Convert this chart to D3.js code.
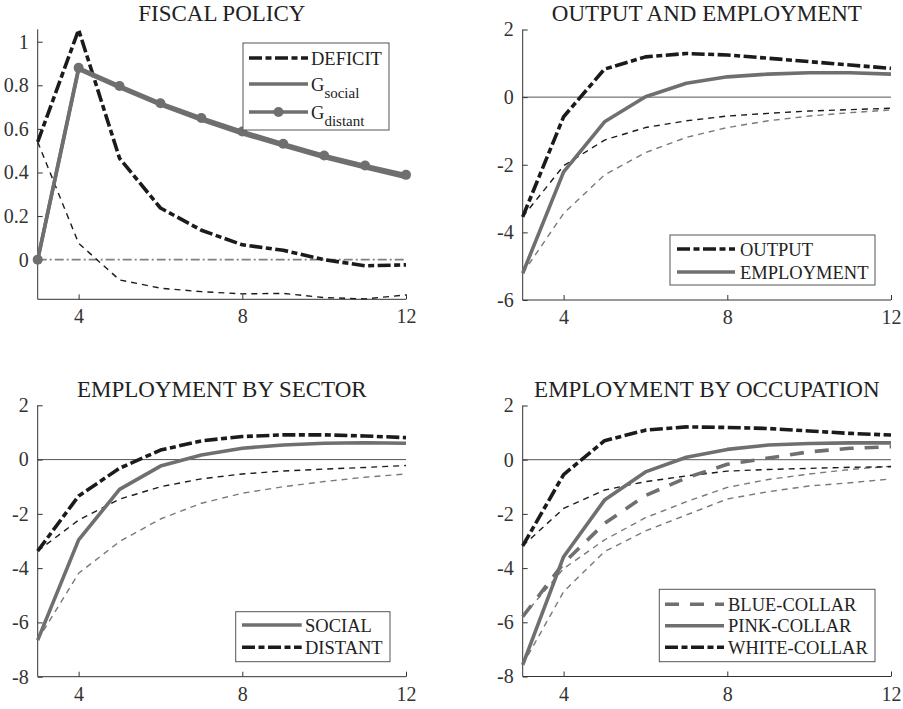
<!DOCTYPE html>
<html><head><meta charset="utf-8">
<script src="https://cdn.jsdelivr.net/npm/d3@7"></script>
<style>
body{margin:0;background:#fff;}
text{font-family:"Liberation Serif","Times New Roman",serif;}
</style></head>
<body><svg id="c" width="903" height="709"></svg>
<script>
// ---------- data ----------
const periods = [3,4,5,6,7,8,9,10,11,12];
const xTicks = [4,8,12];

// Panel 1: fiscal policy
const deficit      = [0.54,1.055,0.465,0.237,0.135,0.068,0.043,0.0,-0.028,-0.024];
const deficitAlt   = [0.54,0.075,-0.093,-0.131,-0.147,-0.157,-0.155,-0.174,-0.180,-0.162];
const gSocial      = [0,0.873,0.789,0.710,0.641,0.578,0.522,0.469,0.422,0.377];
const gDistant     = [0,0.880,0.797,0.718,0.650,0.588,0.532,0.478,0.432,0.389];
const zeroRef      = [0,0,0,0,0,0,0,0,0,0];
const fiscalYTicks = [0,0.2,0.4,0.6,0.8,1];

// Panel 2: output and employment
const output       = [-3.54,-0.58,0.83,1.19,1.29,1.245,1.15,1.05,0.95,0.85];
const outputAlt    = [-3.54,-2.03,-1.27,-0.90,-0.70,-0.56,-0.48,-0.41,-0.37,-0.33];
const employment   = [-5.21,-2.21,-0.73,0.01,0.41,0.60,0.68,0.72,0.72,0.68];
const employmentAlt= [-5.21,-3.44,-2.30,-1.64,-1.19,-0.90,-0.70,-0.56,-0.46,-0.38];
const outYTicks    = [-6,-4,-2,0,2];

// Panel 3: employment by sector
const social       = [-6.65,-2.96,-1.10,-0.24,0.17,0.42,0.54,0.60,0.62,0.60];
const socialAlt    = [-6.65,-4.19,-3.02,-2.19,-1.61,-1.24,-1.00,-0.81,-0.65,-0.53];
const distant      = [-3.37,-1.34,-0.32,0.35,0.69,0.85,0.91,0.91,0.87,0.81];
const distantAlt   = [-3.37,-2.23,-1.46,-1.00,-0.71,-0.53,-0.42,-0.35,-0.29,-0.22];
const empYTicks    = [-8,-6,-4,-2,0,2];

// Panel 4: employment by occupation
const blueCollar   = [-5.79,-3.82,-2.35,-1.32,-0.67,-0.17,0.06,0.29,0.42,0.48];
const blueAlt      = [-5.79,-4.02,-2.96,-2.14,-1.55,-1.02,-0.73,-0.53,-0.36,-0.24];
const pinkCollar   = [-7.57,-3.58,-1.49,-0.45,0.09,0.38,0.54,0.60,0.62,0.62];
const pinkAlt      = [-7.57,-4.87,-3.39,-2.63,-2.04,-1.45,-1.18,-0.97,-0.85,-0.71];
const whiteCollar  = [-3.18,-0.55,0.70,1.09,1.21,1.19,1.15,1.06,0.97,0.91];
const whiteAlt     = [-3.18,-1.80,-1.12,-0.81,-0.60,-0.42,-0.36,-0.32,-0.28,-0.26];

// ---------- styles ----------
const BLACK = "#1b1b1b", GRAY = "#6f6f6f", LGRAY = "#7a7a7a";
const ST = {
  thickDashDot: {stroke:BLACK, w:3.6, dash:"13,3.5,6,3.5"},
  thickGray:    {stroke:GRAY,  w:3.6, dash:null},
  thickGrayDash:{stroke:GRAY,  w:3.6, dash:"14,11"},
  thinBlack:    {stroke:BLACK, w:1.4, dash:"6,5"},
  thinGray:     {stroke:LGRAY, w:1.4, dash:"6,5"},
  zeroDashDot:  {stroke:"#808080", w:1.6, dash:"9,3,2,3"}
};

const svg = d3.select("#c");

function panel(cfg){
  const x = d3.scaleLinear().domain([3,12]).range([cfg.left, cfg.right]);
  const y = d3.scaleLinear().domain(cfg.yDomain).range([cfg.bottom, cfg.top]);
  const g = svg.append("g");

  // title
  g.append("text").attr("x",(cfg.left+cfg.right)/2).attr("y",cfg.titleY)
    .attr("text-anchor","middle").attr("font-size",23).attr("fill","#222").text(cfg.title);

  // zero line
  if(cfg.zeroLine){
    g.append("line").attr("x1",x(3)).attr("x2",x(12)).attr("y1",y(0)).attr("y2",y(0))
      .attr("stroke","#555").attr("stroke-width",1);
  }

  // axes
  const ax = d3.axisBottom(x).tickValues(xTicks).tickSize(-5).tickPadding(10).tickFormat(d3.format("d"));
  const gx = g.append("g").attr("transform",`translate(0,${cfg.bottom})`).call(ax);
  const ay = d3.axisLeft(y).tickValues(cfg.yTicks).tickSize(-5).tickPadding(9).tickFormat(cfg.fmt);
  const gy = g.append("g").attr("transform",`translate(${cfg.left},0)`).call(ay);
  [gx,gy].forEach(a=>{
    a.select(".domain").attr("stroke","#333").attr("stroke-width",1);
    a.selectAll(".tick line").attr("stroke","#333");
    a.selectAll(".tick text").attr("font-size",20).attr("fill","#333")
      .attr("font-family","Liberation Serif, Times New Roman, serif");
  });
  gx.select(".domain").attr("d",`M${cfg.left},0H${cfg.right}`);
  gy.select(".domain").attr("d",`M0,${cfg.bottom}V${cfg.top}`);
  gy.selectAll(".tick text").text(d=>cfg.fmt(d).replace("\u2212","-"));

  // series
  const line = d3.line().x((d,i)=>x(periods[i])).y(d=>y(d));
  cfg.series.forEach(s=>{
    const st = ST[s.style];
    const p = g.append("path").datum(s.values).attr("d",line).attr("fill","none")
      .attr("stroke",st.stroke).attr("stroke-width",st.w).attr("stroke-linejoin","round");
    if(st.dash) p.attr("stroke-dasharray",st.dash);
    if(s.markers){
      g.selectAll(null).data(s.values).enter().append("circle")
        .attr("cx",(d,i)=>x(periods[i])).attr("cy",d=>y(d)).attr("r",5).attr("fill",st.stroke);
    }
  });

  // legend
  const L = cfg.legend;
  g.append("rect").attr("x",L.x0).attr("y",L.y0).attr("width",L.x1-L.x0).attr("height",L.y1-L.y0)
    .attr("fill","#fff").attr("stroke","#555").attr("stroke-width",1);
  L.items.forEach((it,k)=>{
    const st = ST[it.style];
    const ry = L.rows[k];
    const ln = g.append("line").attr("x1",L.lx0).attr("x2",L.lx1).attr("y1",ry).attr("y2",ry)
      .attr("stroke",st.stroke).attr("stroke-width",st.w);
    if(st.dash) ln.attr("stroke-dasharray",st.dash);
    if(it.markers) g.append("circle").attr("cx",(L.lx0+L.lx1)/2).attr("cy",ry).attr("r",5).attr("fill",st.stroke);
    const t = g.append("text").attr("x",L.tx).attr("y",ry+6.5).attr("font-size",18.5).attr("fill","#222");
    t.append("tspan").text(it.label);
    if(it.sub) t.append("tspan").attr("dy",7).attr("font-size",15).text(it.sub);
  });
}

panel({
  title:"FISCAL POLICY", titleY:21, left:37.7, right:406, top:29.3, bottom:299.3,
  yDomain:[-0.182,1.057], yTicks:fiscalYTicks, fmt:d3.format("~g"), zeroLine:false,
  series:[
    {values:zeroRef, style:"zeroDashDot"},
    {values:deficitAlt, style:"thinBlack"},
    {values:deficit, style:"thickDashDot"},
    {values:gSocial, style:"thickGray"},
    {values:gDistant, style:"thickGray", markers:true}
  ],
  legend:{x0:243,x1:389,y0:43,y1:130,rows:[58,84,112],lx0:249,lx1:308,tx:311,
    items:[{label:"DEFICIT",style:"thickDashDot"},{label:"G",sub:"social",style:"thickGray"},
           {label:"G",sub:"distant",style:"thickGray",markers:true}]}
});

panel({
  title:"OUTPUT AND EMPLOYMENT", titleY:21, left:522.7, right:891, top:29.5, bottom:300,
  yDomain:[-6,2], yTicks:outYTicks, fmt:d3.format("d"), zeroLine:true,
  series:[
    {values:employmentAlt, style:"thinGray"},
    {values:outputAlt, style:"thinBlack"},
    {values:employment, style:"thickGray"},
    {values:output, style:"thickDashDot"}
  ],
  legend:{x0:670,x1:875,y0:235,y1:285,rows:[249,272],lx0:677,lx1:735,tx:740,
    items:[{label:"OUTPUT",style:"thickDashDot"},{label:"EMPLOYMENT",style:"thickGray"}]}
});

panel({
  title:"EMPLOYMENT BY SECTOR", titleY:397, left:37.7, right:406, top:405.3, bottom:676.7,
  yDomain:[-8,2], yTicks:empYTicks, fmt:d3.format("d"), zeroLine:true,
  series:[
    {values:socialAlt, style:"thinGray"},
    {values:distantAlt, style:"thinBlack"},
    {values:social, style:"thickGray"},
    {values:distant, style:"thickDashDot"}
  ],
  legend:{x0:235.7,x1:390,y0:611.7,y1:661.7,rows:[625,647.3],lx0:242,lx1:301.7,tx:305,
    items:[{label:"SOCIAL",style:"thickGray"},{label:"DISTANT",style:"thickDashDot"}]}
});

panel({
  title:"EMPLOYMENT BY OCCUPATION", titleY:397, left:522.7, right:891, top:405.5, bottom:676.5,
  yDomain:[-8,2], yTicks:empYTicks, fmt:d3.format("d"), zeroLine:true,
  series:[
    {values:pinkAlt, style:"thinGray"},
    {values:blueAlt, style:"thinGray"},
    {values:whiteAlt, style:"thinBlack"},
    {values:blueCollar, style:"thickGrayDash"},
    {values:pinkCollar, style:"thickGray"},
    {values:whiteCollar, style:"thickDashDot"}
  ],
  legend:{x0:659.3,x1:875,y0:589.3,y1:661.7,rows:[604.3,625.7,647.3],lx0:665,lx1:724,tx:728,
    items:[{label:"BLUE-COLLAR",style:"thickGrayDash"},{label:"PINK-COLLAR",style:"thickGray"},
           {label:"WHITE-COLLAR",style:"thickDashDot"}]}
});
</script></body></html>
